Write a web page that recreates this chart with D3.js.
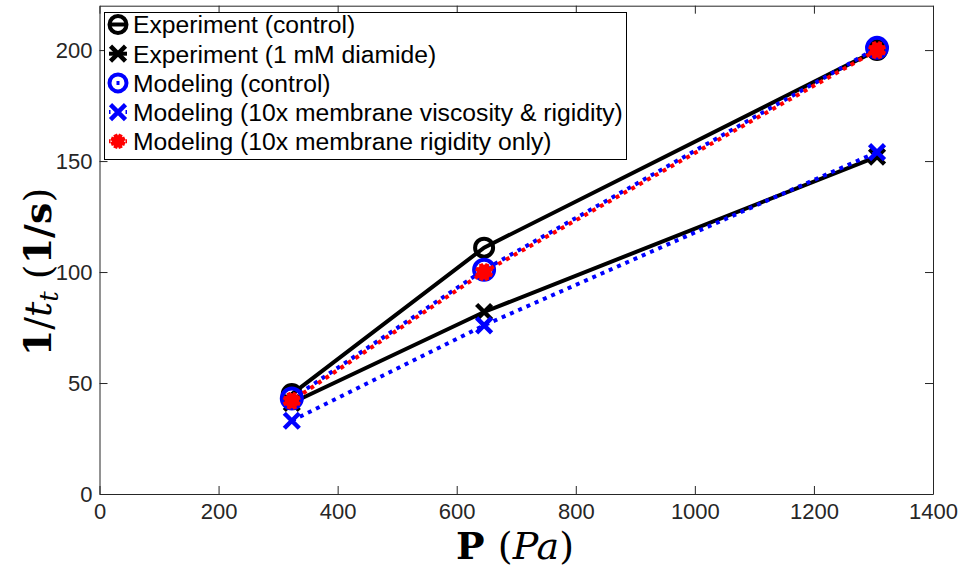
<!DOCTYPE html>
<html><head><meta charset="utf-8">
<script src="https://cdn.jsdelivr.net/npm/d3@7"></script>
<style>body{margin:0;background:#fff}</style>
</head><body>
<svg id="c" width="961" height="569"></svg>
<script>
const pressure = [323, 646, 1306];
const expControl = [45, 111, 200];
const expDiamide = [41, 82, 152];
const modControl = [43, 101, 201];
const modViscRigid = [33, 76, 154];
const modRigidOnly = [42, 100, 200];
const xTicks = [0, 200, 400, 600, 800, 1000, 1200, 1400];
const yTicks = [0, 50, 100, 150, 200];
const legendLabels = ["Experiment (control)", "Experiment (1 mM diamide)", "Modeling (control)",
  "Modeling (10x membrane viscosity & rigidity)", "Modeling (10x membrane rigidity only)"];

const svg = d3.select("#c");
const L = 99.5, R = 933, T = 5.7, B = 494;
const x = d3.scaleLinear().domain([0, 1400]).range([L, R]);
const y = d3.scaleLinear().domain([0, 220]).range([B, T]);
const axCol = "#262626";
const tickFont = "Liberation Sans, Arial, sans-serif";

function styleAxis(g, hideText) {
  g.select(".domain").attr("stroke", axCol).attr("stroke-width", 1);
  g.selectAll(".tick line").attr("stroke", axCol).attr("stroke-width", 1);
  g.selectAll(".tick text").attr("fill", axCol).style("font-family", tickFont).style("font-size", "22px");
  if (hideText) g.selectAll(".tick text").remove();
}
svg.append("g").attr("transform", `translate(0,${B})`)
  .call(d3.axisBottom(x).tickValues(xTicks).tickSize(-8).tickPadding(9).tickSizeOuter(0).tickFormat(d3.format("d")))
  .call(g => styleAxis(g, false));
svg.append("g").attr("transform", `translate(0,${T})`)
  .call(d3.axisTop(x).tickValues(xTicks).tickSize(-8).tickSizeOuter(0))
  .call(g => styleAxis(g, true));
svg.append("g").attr("transform", `translate(${L},0)`)
  .call(d3.axisLeft(y).tickValues(yTicks).tickSize(-8).tickPadding(7).tickSizeOuter(0).tickFormat(d3.format("d")))
  .call(g => styleAxis(g, false));
svg.append("g").attr("transform", `translate(${R},0)`)
  .call(d3.axisRight(y).tickValues(yTicks).tickSize(-8).tickSizeOuter(0))
  .call(g => styleAxis(g, true));

function drawMarker(g, type, cx, cy, color, s) {
  if (type === "circle") {
    g.append("circle").attr("cx", cx).attr("cy", cy).attr("r", s)
      .attr("fill", "none").attr("stroke", color).attr("stroke-width", 4);
  } else if (type === "x") {
    const p = `M${cx - s},${cy - s}L${cx + s},${cy + s}M${cx - s},${cy + s}L${cx + s},${cy - s}`;
    g.append("path").attr("d", p).attr("stroke", color).attr("stroke-width", 4.5).attr("fill", "none");
  } else if (type === "star") {
    g.append("circle").attr("cx", cx).attr("cy", cy).attr("r", s - 1.5).attr("fill", color);
    let p = "";
    for (let i = 0; i < 4; i++) {
      const a = i * Math.PI / 4 + Math.PI / 8;
      p += `M${cx - s * Math.cos(a)},${cy - s * Math.sin(a)}L${cx + s * Math.cos(a)},${cy + s * Math.sin(a)}`;
    }
    g.append("path").attr("d", p).attr("stroke", color).attr("stroke-width", 4).attr("fill", "none");
  }
}

const series = [
  { vals: expControl, color: "#000", dash: null, lw: 4, marker: "circle", ms: 9 },
  { vals: expDiamide, color: "#000", dash: null, lw: 4, marker: "x", ms: 7.5 },
  { vals: modControl, color: "#0000ff", dash: "4,5", lw: 4, marker: "circle", ms: 10 },
  { vals: modViscRigid, color: "#0000ff", dash: "4,5", lw: 4, marker: "x", ms: 7.5 },
  { vals: modRigidOnly, color: "#ff0000", dash: "4,5", lw: 4, marker: "star", ms: 9 }
];
const line = d3.line().x(d => x(d[0])).y(d => y(d[1]));
series.forEach((s, i) => {
  const g = svg.append("g");
  const pts = pressure.map((p, j) => [p, s.vals[j]]);
  g.append("path").attr("d", line(pts)).attr("fill", "none").attr("stroke", s.color)
    .attr("stroke-width", s.lw).attr("stroke-dasharray", s.dash).attr("stroke-dashoffset", i === 4 ? 4.5 : 0);
  pts.forEach(d => drawMarker(g, s.marker, x(d[0]), y(d[1]), s.color, s.ms));
});

// legend
const lg = svg.append("g");
lg.append("rect").attr("x", 104.5).attr("y", 12.5).attr("width", 522).attr("height", 147)
  .attr("fill", "#fff").attr("stroke", "#000").attr("stroke-width", 1);
series.forEach((s, i) => {
  const cy = 24.5 + i * 29.2, cx = 118;
  lg.append("line").attr("x1", cx - 9).attr("x2", cx + 9).attr("y1", cy).attr("y2", cy)
    .attr("stroke", s.color).attr("stroke-width", 4).attr("stroke-dasharray", s.dash ? "3,6" : null).attr("stroke-dashoffset", s.dash ? -7.5 : 0);
  drawMarker(lg, s.marker, cx, cy, s.color, s.marker === "circle" ? 8.5 : 7.5);
  lg.append("text").attr("x", 133).attr("y", cy).attr("dy", "0.36em")
    .style("font-family", tickFont).style("font-size", "24.7px").attr("fill", "#000").text(legendLabels[i]);
});

// axis labels
const serif = "DejaVu Serif, Liberation Serif, serif";
const yl = svg.append("text").attr("transform", "translate(51,272) rotate(-90)").attr("text-anchor", "middle")
  .style("font-family", serif).style("font-size", "38px").attr("fill", "#000");
yl.append("tspan").attr("font-weight", "bold").text("1");
yl.append("tspan").text("/");
yl.append("tspan").attr("font-style", "italic").text("t");
yl.append("tspan").attr("font-style", "italic").attr("font-size", "26px").attr("dy", 7).text("t");
yl.append("tspan").attr("dy", -7).text(" (");
yl.append("tspan").attr("font-weight", "bold").text("1/s");
yl.append("tspan").text(")");

const xl = svg.append("text").attr("x", 515).attr("y", 559).attr("text-anchor", "middle")
  .style("font-family", serif).style("font-size", "38px").attr("fill", "#000");
xl.append("tspan").attr("font-weight", "bold").text("P ");
xl.append("tspan").text("(");
xl.append("tspan").attr("font-style", "italic").text("Pa");
xl.append("tspan").text(")");
</script>
</body></html>
